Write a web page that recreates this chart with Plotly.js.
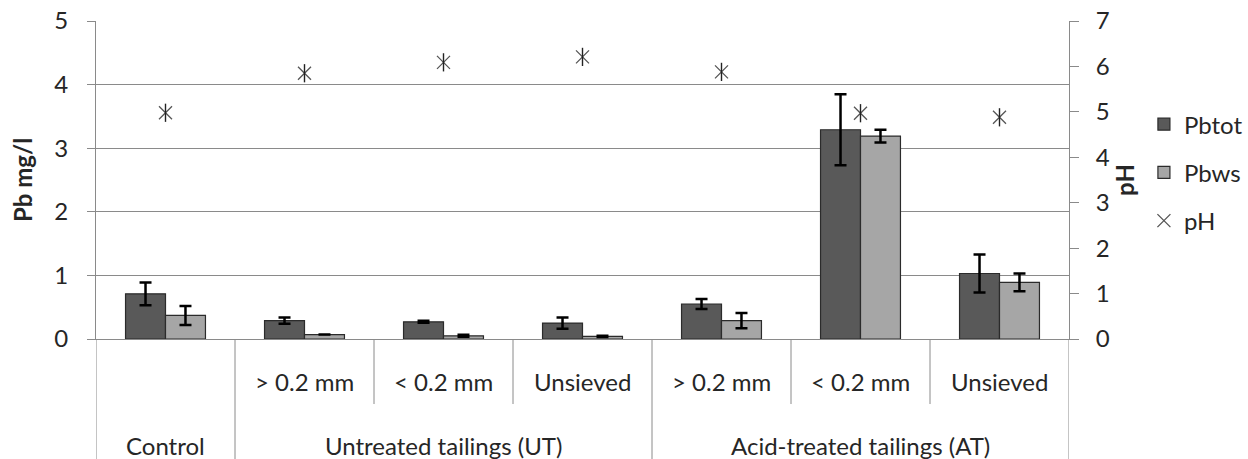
<!DOCTYPE html>
<html>
<head>
<meta charset="utf-8">
<script src="https://cdn.plot.ly/plotly-3.0.1.min.js"></script>
<style>html,body{margin:0;padding:0;background:#fff;}#chart{width:1248px;height:459px;}</style>
</head>
<body>
<div id="chart"></div>
<script>
const groups = ['Control', 'Untreated tailings (UT)', 'Untreated tailings (UT)', 'Untreated tailings (UT)',
  'Acid-treated tailings (AT)', 'Acid-treated tailings (AT)', 'Acid-treated tailings (AT)'];
const subLabels = ['', '> 0.2 mm', '< 0.2 mm', 'Unsieved', '> 0.2 mm', '< 0.2 mm', 'Unsieved'];
const pbtot = [0.71, 0.29, 0.27, 0.25, 0.55, 3.29, 1.03];
const pbtotErr = [0.18, 0.05, 0.015, 0.09, 0.08, 0.56, 0.30];
const pbws = [0.37, 0.07, 0.05, 0.04, 0.29, 3.19, 0.89];
const pbwsErr = [0.15, 0.0, 0.015, 0.01, 0.12, 0.10, 0.14];
const ph = [4.98, 5.85, 6.09, 6.21, 5.88, 4.97, 4.88];

const xs = subLabels.map((_, i) => i);
const FONT = 'Lato, "Open Sans", sans-serif';
const FS = 24;
const TXT = '#262626';
const GRID = '#8a8a8a';

const traces = [
  {type: 'bar', name: 'Pbtot', x: xs, y: pbtot, legendgroup: 'a',
   marker: {color: '#595959', line: {color: '#2b2b2b', width: 1.2}},
   error_y: {type: 'data', array: pbtotErr, visible: true, color: '#000', thickness: 2.5, width: 6}},
  {type: 'bar', name: 'Pbws', x: xs, y: pbws, legendgroup: 'b',
   marker: {color: '#a6a6a6', line: {color: '#2b2b2b', width: 1.2}},
   error_y: {type: 'data', array: pbwsErr, visible: true, color: '#000', thickness: 2.5, width: 6}},
  {type: 'scatter', mode: 'markers', name: 'pH', x: xs, y: ph, yaxis: 'y2', legendgroup: 'c',
   marker: {symbol: 'x-thin-open', size: 13, color: '#555', line: {color: '#555', width: 1.3}}},
  {type: 'scatter', mode: 'markers', name: 'pH', x: xs, y: ph, yaxis: 'y2', showlegend: false, legendgroup: 'c',
   marker: {symbol: 'line-ns-open', size: 13, color: '#222', line: {color: '#222', width: 1.4}}}
];

// category-axis labels and separators (built from the arrays)
const annotations = [];
const shapes = [];
const SUB_Y = -0.135, GROUP_Y = -0.335, SUB_LINE = -0.2045, FULL_LINE = -0.38;
subLabels.forEach((s, i) => {
  if (s) annotations.push({xref: 'x', yref: 'paper', x: i, y: SUB_Y, text: s, showarrow: false,
    font: {family: FONT, size: FS, color: TXT}, xanchor: 'center', yanchor: 'middle'});
});
let start = 0;
for (let i = 1; i <= groups.length; i++) {
  if (i === groups.length || groups[i] !== groups[start]) {
    annotations.push({xref: 'x', yref: 'paper', x: (start + i - 1) / 2, y: GROUP_Y, text: groups[start],
      showarrow: false, font: {family: FONT, size: FS, color: TXT}, xanchor: 'center', yanchor: 'middle'});
    start = i;
  }
}
for (let i = 0; i <= groups.length; i++) {
  const full = (i === 0 || i === groups.length || groups[i] !== groups[i - 1]);
  shapes.push({type: 'line', xref: 'x', yref: 'paper', x0: i - 0.5, x1: i - 0.5, y0: 0, y1: full ? FULL_LINE : SUB_LINE,
    line: {color: GRID, width: 1}});
}

const layout = {
  width: 1248, height: 459,
  margin: {l: 96, r: 179, t: 21, b: 120, autoexpand: false},
  paper_bgcolor: '#fff', plot_bgcolor: '#fff',
  font: {family: FONT, size: FS, color: TXT},
  barmode: 'group', bargap: 0.425, bargroupgap: 0,
  showlegend: true,
  legend: {x: 1.077, xanchor: 'left', y: 0.745, yanchor: 'top', traceorder: 'grouped', tracegroupgap: 14,
    font: {family: FONT, size: FS, color: TXT}, itemwidth: 30, bgcolor: 'rgba(0,0,0,0)'},
  xaxis: {range: [-0.5, 6.5], showticklabels: false, showgrid: false, zeroline: false,
    showline: true, linecolor: GRID, linewidth: 1, ticks: '', fixedrange: true, automargin: false},
  yaxis: {range: [0, 5], dtick: 1, showgrid: true, gridcolor: GRID, gridwidth: 1, zeroline: false,
    showline: true, linecolor: GRID, linewidth: 1, ticks: 'outside', ticklen: 8, tickcolor: GRID,
    ticklabelstandoff: 14, tickfont: {family: FONT, size: FS, color: TXT}, automargin: false,
    title: {text: '<b>Pb mg/l</b>', font: {family: FONT, size: FS, color: TXT}, standoff: 14}},
  yaxis2: {range: [0, 7], dtick: 1, overlaying: 'y', side: 'right', showgrid: false, zeroline: false,
    showline: true, linecolor: GRID, linewidth: 1, ticks: 'outside', ticklen: 9, tickcolor: GRID,
    ticklabelstandoff: 12, tickfont: {family: FONT, size: FS, color: TXT}, automargin: false,
    title: {text: '<b>pH</b>', font: {family: FONT, size: FS, color: TXT}, standoff: 8}},
  annotations: annotations,
  shapes: shapes
};

Plotly.newPlot('chart', traces, layout, {staticPlot: true, displayModeBar: false});
</script>
</body>
</html>
